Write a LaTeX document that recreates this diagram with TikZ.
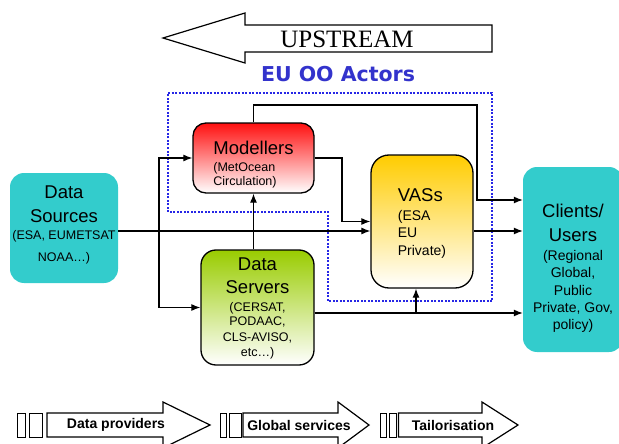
\documentclass[tikz,border=0pt]{standalone}
\usepackage{fontspec}
\setmainfont{Liberation Sans}
\newfontfamily\upfont{Liberation Serif}
\newfontfamily\actorfont{DejaVu Sans}
\usetikzlibrary{arrows.meta, positioning, calc}
\definecolor{eu-teal}{HTML}{33CCCC}
\definecolor{eu-blue}{HTML}{3333CC}
\definecolor{eu-dots}{HTML}{2626E6}
\definecolor{eu-red}{HTML}{FF1010}
\definecolor{eu-gold}{HTML}{FFCC00}
\definecolor{eu-green}{HTML}{99CC00}

\tikzset{
  actor/.style={rounded corners=14pt, fill=eu-teal, inner sep=0pt},
  player/.style={rounded corners=13pt, draw, line width=1.3pt, inner sep=0pt,
    shade, bottom color=white},
  boxtext/.style={inner sep=0pt, font=\fontsize{12.5}{14}\selectfont},
  flow/.style={-{Latex[length=9pt,width=7pt]}, line width=1.2pt},
  hollow/.style={draw, fill=white, line width=1.2pt},
  slot/.style={draw, fill=white, line width=1pt},
}
\newcommand{\ttl}[1]{{\fontsize{18.5}{20}\selectfont #1}}

\begin{document}
\begin{tikzpicture}[x=1pt, y=-1pt]
    \useasboundingbox (0,0) rectangle (619,444);
    \clip (0,0) rectangle (619,444);

    % Upstream arrow
    \draw[hollow] (163,38) -- (245,13) -- (245,25) -- (492,25) -- (492,52) -- (245,52) -- (245,63) -- cycle;
    \node (upstream) at (347,39) {\upfont\fontsize{25}{25}\selectfont UPSTREAM};
    \node[text=eu-blue] (euoo) at (338,74) {\actorfont\bfseries\fontsize{20.5}{20}\selectfont EU OO Actors};

    % EU OO actors border
    \draw[eu-dots, line width=2pt, dash pattern=on 2pt off 1.5pt]
        (168,93) -- (492,93) -- (492,301) -- (328,301) -- (328,212) -- (168,212) -- cycle;

    % Boxes
    \node[actor, minimum width=108, minimum height=110] (src) at (64,228) {};
    \node[player, top color=eu-red, minimum width=121, minimum height=70] (mod) at (253.5,158) {};
    \node[player, top color=eu-gold, rounded corners=18pt, minimum width=102, minimum height=133] (vas) at (422,221.5) {};
    \node[player, top color=eu-green, rounded corners=15pt, minimum width=113, minimum height=115] (srv) at (257.5,307.5) {};
    \node[actor, minimum width=100, minimum height=185] (cli) at (573,259.5) {};

    % Box texts
    \node[boxtext, align=center, below=12.5pt of src.north] (srctext)
        {\ttl{Data}\\[10pt] \ttl{Sources}\\[3pt] (ESA, EUMETSAT\\[8pt] NOAA…)};
    \node[boxtext, align=left, below=18.5pt of mod.north] (modtext)
        {\ttl{Modellers}\\[3pt] (MetOcean\\ Circulation)};
    \node[boxtext, align=left, font=\fontsize{14}{14}\selectfont, below=34.5pt of vas.north] (vastext)
        {\ttl{VASs}\\[5pt] (ESA\\[3pt] EU\\[4pt] Private)};
    \node[boxtext, align=center, below=8.5pt of srv.north] (srvtext)
        {\ttl{Data}\\[9pt] \ttl{Servers}\\[4pt] (CERSAT,\\ PODAAC,\\[2pt] CLS-AVISO,\\[1pt] etc…)};
    \node[boxtext, align=center, font=\fontsize{14}{14}\selectfont, below=37.5pt of cli.north] (clitext)
        {\ttl{Clients/}\\[10pt] \ttl{Users}\\[5pt] (Regional\\[3pt] Global,\\[4pt] Public\\[3pt] Private, Gov,\\[3pt] policy)};

    % Connectors
    \coordinate (split) at (159,231);
    \coordinate (mvbend) at (342,158);
    \coordinate (topbend) at (477,105);
    \coordinate (cliin) at (523,200);
    \coordinate (low) at (416,313);

    \draw[flow] (src.east |- split) -- (vas.west |- split);
    \draw[flow] (split) -- (split |- mod.west) -- (mod.west);
    \draw[flow] (split) -- (split |- srv.west) -- (srv.west);
    \draw[flow] (mod.south |- srv.north) -- (mod.south);
    \draw[flow] (mod.east) -| (mvbend |- vas.west) -- (vas.west);
    \draw[flow] (mod.north) |- (topbend) -- (topbend |- cliin) -- (cli.west |- cliin);
    \draw[flow] (vas.east |- split) -- (cli.west |- split);
    \draw[flow] (srv.east |- low) -- (cli.west |- low);
    \draw[flow] (low) -- (vas.south -| low);

    % Value chain arrows
    \foreach \ra/\rb/\rc/\rd/\sx/\hx/\tx/\lx/\lbl [count=\i] in
        {17/25/29/42/47/163/210/116/Data providers,
         220/226/229.5/241/243/338/369/299/Global services,
         380.5/386.5/389.5/396.5/398.5/482/518/453/Tailorisation} {
        \draw[slot] (\ra,413) rectangle (\rb,437);
        \draw[slot] (\rc,413) rectangle (\rd,437);
        \draw[hollow] (\sx,413) -- (\hx,413) -- (\hx,402) -- (\tx,425) -- (\hx,448) -- (\hx,437) -- (\sx,437) -- cycle;
        \node[font=\bfseries\fontsize{14}{14}\selectfont] (stage\i) at (\lx,425) {\lbl};
    }
\end{tikzpicture}
\end{document}
